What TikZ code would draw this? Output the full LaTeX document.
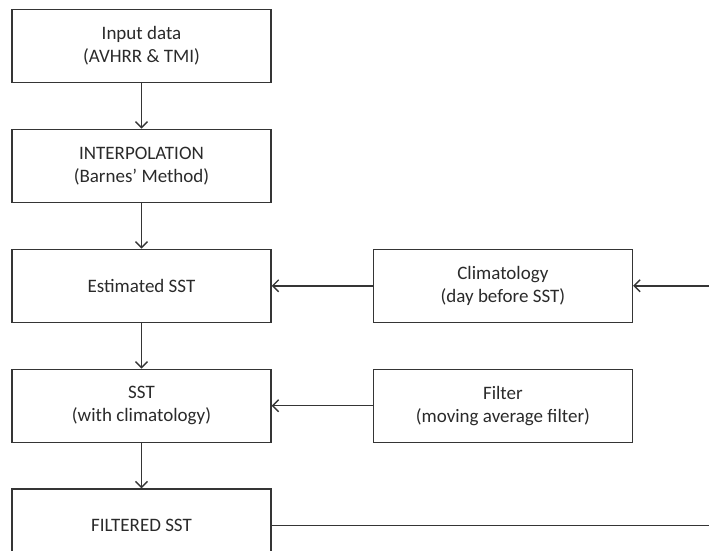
\documentclass[tikz,border=0pt]{standalone}
\usepackage{fontspec}
\setmainfont{Carlito}
\usetikzlibrary{positioning,arrows.meta}
\definecolor{linegray}{HTML}{353535}
\definecolor{textgray}{HTML}{2A2A2A}

\begin{document}
\begin{tikzpicture}[
    box/.style={draw=linegray, line width=1.4pt, minimum width=259pt,
      minimum height=73pt, inner sep=0pt, align=center, text=textgray,
      font=\fontsize{19}{23}\selectfont},
    link/.style={draw=linegray, line width=1.4pt,
      -{Straight Barb[length=6pt,width=12pt]}},
    node distance=45.5pt and 101pt]
% fixed page size, the loop back on the right runs off the page
\useasboundingbox (0,0) rectangle (709pt,-551pt);

% main column
\node[box] (input) at (141.5pt,-46pt) {Input data\\(AVHRR \& TMI)};
\node[box, below=of input] (interp) {INTERPOLATION\\(Barnes' Method)};
\node[box, below=of interp] (est) {Estimated SST};
\node[box, below=of est] (sst) {SST\\(with climatology)};
\node[box, below=of sst] (filt) {FILTERED SST};

% side boxes
\node[box, right=of est] (clim) {Climatology\\(day before SST)};
\node[box, right=of sst] (filter) {Filter\\(moving average filter)};

% connectors
\draw[link] (input) -- (interp);
\draw[link] (interp) -- (est);
\draw[link] (est) -- (sst);
\draw[link] (sst) -- (filt);
\draw[link] (clim) -- (est);
\draw[link] (filter) -- (sst);
\coordinate (back) at (725pt,0 |- filt.east);
\draw[link] (filt.east) -- (back) |- (clim.east);
\end{tikzpicture}
\end{document}
